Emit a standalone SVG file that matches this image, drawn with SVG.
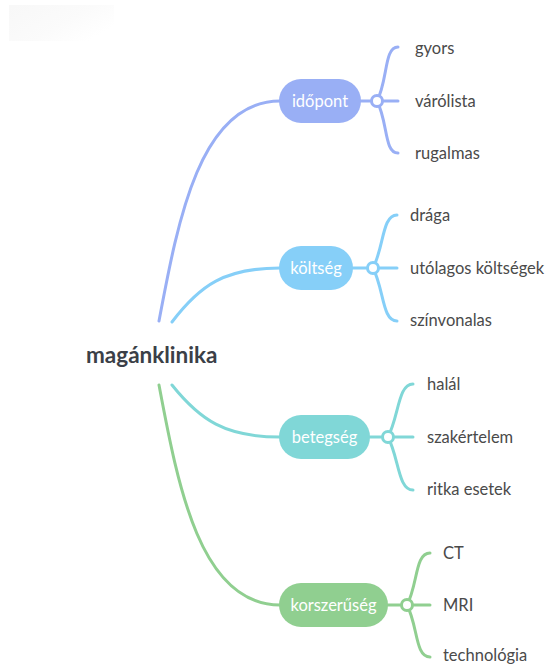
<svg xmlns="http://www.w3.org/2000/svg" width="547" height="665" viewBox="0 0 547 665">
<defs>
<linearGradient id="fade" x1="0" y1="0" x2="1" y2="0.6">
<stop offset="0" stop-color="#f3f3f3"/>
<stop offset="0.6" stop-color="#f8f8f8"/>
<stop offset="1" stop-color="#ffffff"/>
</linearGradient>
<style>
.lbl{font-family:Lato,"Open Sans","Liberation Sans",sans-serif;font-size:16.5px;fill:#4a4a4a;dominant-baseline:central}
.pt{font-family:Lato,"Open Sans","Liberation Sans",sans-serif;font-size:16.5px;fill:#ffffff;text-anchor:middle;dominant-baseline:central}
.root{font-family:Lato,"Open Sans","Liberation Sans",sans-serif;font-size:22.5px;font-weight:bold;fill:#3b3f47;dominant-baseline:central}
.ln{fill:none;stroke-width:3;stroke-linecap:round}
.hub{fill:#ffffff;stroke-width:3}
.c1{stroke:#99aff5}.f1{fill:#99aff5}
.c2{stroke:#86cff8}.f2{fill:#86cff8}
.c3{stroke:#80d7d7}.f3{fill:#80d7d7}
.c4{stroke:#90cf90}.f4{fill:#90cf90}
</style>
</defs>
<rect width="547" height="665" fill="#ffffff"/>
<rect x="9" y="5" width="105" height="36" fill="url(#fade)" opacity="0.6"/>

<g id="connectors">
<path class="ln c1" d="M159,321 C178,220 200,101 280,101"/>
<path class="ln c2" d="M172,322 C200,285 225,268 280,268"/>
<path class="ln c3" d="M172,385 C200,420 225,437 280,437"/>
<path class="ln c4" d="M159,385 C178,486 200,605 280,605"/>

<path class="ln c1" d="M361,101 H398 M377,101 C388,80 384,47 398,47 M377,101 C388,122 384,153 398,153"/>
<path class="ln c2" d="M353,268 H397 M373,268 C384,247 382,215 397,215 M373,268 C384,289 382,321 397,321"/>
<path class="ln c3" d="M370,437 H413 M388,437 C399,416 398,384 413,384 M388,437 C399,458 398,490 413,490"/>
<path class="ln c4" d="M388,605 H430 M407,605 C418,584 415,553 430,553 M407,605 C418,626 415,657 430,657"/>
</g>

<g id="root"><text class="root" x="86" y="354">magánklinika</text></g>

<g id="idopont">
<rect class="f1" x="279" y="79" width="82" height="44" rx="22"/>
<text class="pt" x="320" y="101">időpont</text>
<circle class="hub c1" cx="377" cy="101" r="5.5"/>
</g>
<g id="idopont-children">
<text class="lbl" x="415" y="48">gyors</text>
<text class="lbl" x="415" y="101">várólista</text>
<text class="lbl" x="415" y="153">rugalmas</text>
</g>

<g id="koltseg">
<rect class="f2" x="279" y="246" width="74" height="44" rx="22"/>
<text class="pt" x="316" y="268">költség</text>
<circle class="hub c2" cx="373" cy="268" r="5.5"/>
</g>
<g id="koltseg-children">
<text class="lbl" x="410" y="215">drága</text>
<text class="lbl" x="410" y="268">utólagos költségek</text>
<text class="lbl" x="410" y="320">színvonalas</text>
</g>

<g id="betegseg">
<rect class="f3" x="279" y="415" width="91" height="44" rx="22"/>
<text class="pt" x="324.5" y="437">betegség</text>
<circle class="hub c3" cx="388" cy="437" r="5.5"/>
</g>
<g id="betegseg-children">
<text class="lbl" x="427" y="384">halál</text>
<text class="lbl" x="427" y="437">szakértelem</text>
<text class="lbl" x="427" y="489">ritka esetek</text>
</g>

<g id="korszeruseg">
<rect class="f4" x="279" y="583" width="109" height="44" rx="22"/>
<text class="pt" x="333.5" y="605">korszerűség</text>
<circle class="hub c4" cx="407" cy="605" r="5.5"/>
</g>
<g id="korszeruseg-children">
<text class="lbl" x="443" y="553">CT</text>
<text class="lbl" x="443" y="605">MRI</text>
<text class="lbl" x="443" y="655">technológia</text>
</g>
</svg>
